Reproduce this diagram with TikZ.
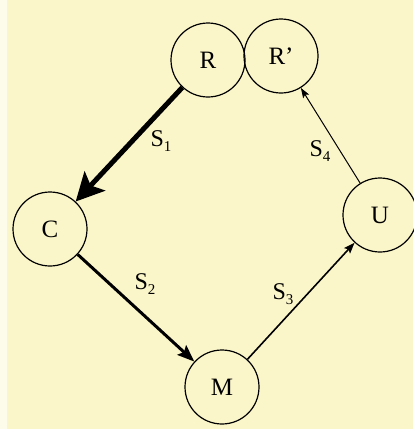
\documentclass[tikz,border=0pt]{standalone}
\usepackage{fontspec}
\setmainfont{Liberation Serif}
\usetikzlibrary{arrows.meta}
\definecolor{paper}{RGB}{251,246,201}
\tikzset{
  state/.style={circle, draw=black, line width=1.2pt, minimum size=74pt, inner sep=0pt, font=\fontsize{25}{25}\selectfont},
  lbl/.style={inner sep=0pt, font=\fontsize{24}{24}\selectfont},
}
\newcommand{\sub}[1]{\raisebox{-5pt}{\fontsize{15}{15}\selectfont #1}}
\begin{document}
\begin{tikzpicture}[x=1pt,y=-1pt]
\fill[paper] (0,0) rectangle (413,429);
\fill[white!60!paper] (0,0) rectangle (7,429);
\useasboundingbox (0,0) rectangle (413,429);
\node[state] (R) at (208,60) {R};
\node[state] (Rp) at (281,56) {R’};
\node[state] (C) at (50,229) {C};
\node[state] (M) at (222,387) {M};
\node[state] (U) at (380,215) {U};
\draw[line width=5pt, -{Stealth[length=28pt, width=28pt, inset=6pt]}] (R) -- (C);
\draw[line width=3pt, -{Stealth[length=17pt, width=13pt, inset=3pt]}] (C) -- (M);
\draw[line width=1.6pt, -{Stealth[length=11pt, width=8pt, inset=2pt]}] (M) -- (U);
\draw[line width=1pt, -{Stealth[length=10pt, width=7pt, inset=2pt]}] (U) -- (Rp);
\node[lbl] (s1) at (161,141) {S\sub{1}};
\node[lbl] (s2) at (145,284) {S\sub{2}};
\node[lbl] (s3) at (283,294) {S\sub{3}};
\node[lbl] (s4) at (320,151) {S\sub{4}};
\end{tikzpicture}
\end{document}
